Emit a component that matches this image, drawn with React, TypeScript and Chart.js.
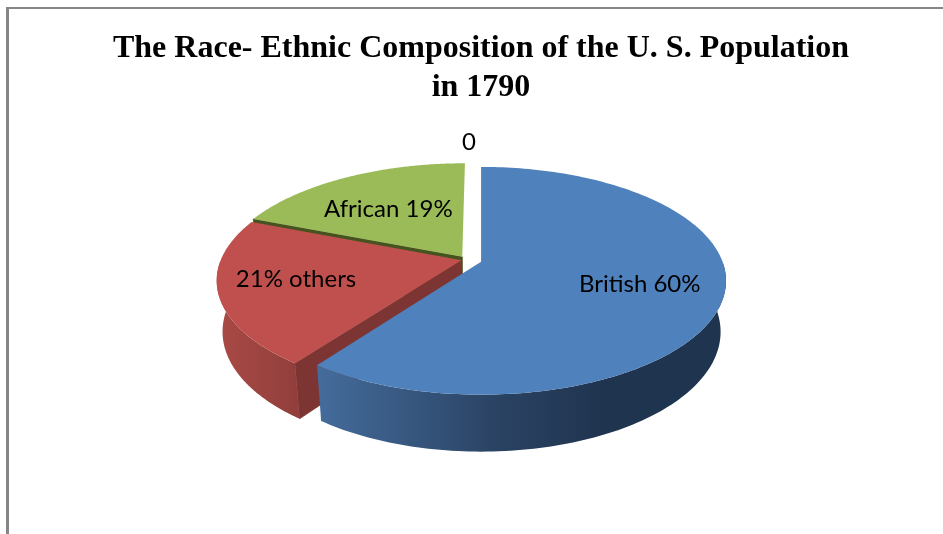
import React, { useEffect, useRef } from "react";
import { Chart, registerables } from "chart.js";

Chart.register(...registerables);

const categories = ["British 60%", "21% others", "African 19%", "0"];
const shares = [60, 21, 19, 0];
const sliceColors = ["#4f81bd", "#c0504d", "#9bbb59", "#f79646"];
const cutFaceColors = ["#2c4a70", "#7d3533", "#47531f", "#8a5326"];
const rimStops: [number, string][][] = [
  [[0, "#446c9c"], [0.45, "#2a4262"], [0.7, "#1f344f"], [1, "#1f344f"]],
  [[0, "#aa4a46"], [1, "#923f3c"]],
  [[0, "#5f7535"], [1, "#5f7535"]],
  [[0, "#8a5326"], [1, "#8a5326"]],
];
const sliceOffsets = [9.5, 3, 4.5, 0];
const labelRadii = [0.667, 0.69, 0.606, 1.3];
const labelLift = [-1, -3, 3, 0];
const titleLines = ["The Race- Ethnic Composition of the U. S. Population", "in 1790"];

// Camera model for the tilted disc: unit-disc coordinates (u, v) plus a depth h.
const STRETCH_X = 1.641;
const SQUASH_Y = 0.7525;
const DEPTH_Y = 0.351;
const PERSPECTIVE = 0.1667;
const DEPTH_SHRINK = 0.022;
const PIE_SHIFT_U = -0.061;
const PIE_SHIFT_V = -0.022;

type Pt = { x: number; y: number };

const tiltedPie = {
  id: "tiltedPie",
  beforeDatasetDraw(chart: any) {
    const { ctx } = chart;
    const arcs = chart.getDatasetMeta(0).data;

    const project = (arc: any, u: number, v: number, h: number): Pt => {
      const R = arc.outerRadius;
      const w = 1 - PERSPECTIVE * v + DEPTH_SHRINK * h;
      return {
        x: arc.x + (R * STRETCH_X * u) / w,
        y: arc.y + (R * (SQUASH_Y * v + DEPTH_Y * h)) / w,
      };
    };
    const hub = (arc: any) => {
      const mid = (arc.startAngle + arc.endAngle) / 2;
      const e = arc.options.offset / arc.outerRadius;
      return { u: PIE_SHIFT_U + e * Math.cos(mid), v: PIE_SHIFT_V + e * Math.sin(mid) };
    };
    const rimPoint = (arc: any, a: number, h: number, r = 1) => {
      const c = hub(arc);
      return project(arc, c.u + r * Math.cos(a), c.v + r * Math.sin(a), h);
    };
    const fillPath = (pts: Pt[], style: any, sealed = false) => {
      ctx.beginPath();
      pts.forEach((p, i) => (i ? ctx.lineTo(p.x, p.y) : ctx.moveTo(p.x, p.y)));
      ctx.closePath();
      ctx.fillStyle = style;
      ctx.fill();
      if (sealed) {
        // A hairline in the fill colour stops the wall seam showing white.
        ctx.strokeStyle = style;
        ctx.lineWidth = 0.8;
        ctx.stroke();
      }
    };

    // Painter's order: the rear slices first, the front slice last.
    [2, 1, 0].forEach((i) => {
      const arc = arcs[i];
      if (arc.endAngle - arc.startAngle <= 0) return;
      const steps = 180;
      const angles = Array.from({ length: steps + 1 }, (_, s) =>
        arc.startAngle + ((arc.endAngle - arc.startAngle) * s) / steps);
      const topRim = angles.map((a) => rimPoint(arc, a, 0));
      const c = hub(arc);
      const apexTop = project(arc, c.u, c.v, 0);
      const apexLow = project(arc, c.u, c.v, 1);

      // Flat cut faces, only where a radius turns towards the viewer.
      if (Math.sin(arc.startAngle - Math.PI / 2) > 0.01) {
        fillPath([apexTop, topRim[0], rimPoint(arc, angles[0], 1), apexLow], cutFaceColors[i], true);
      }
      if (Math.sin(arc.endAngle + Math.PI / 2) > 0.01) {
        fillPath([apexTop, topRim[steps], rimPoint(arc, angles[steps], 1), apexLow], cutFaceColors[i], true);
      }

      // Curved outer wall on the near half of the rim, shaded from left to right.
      const nearAngles = angles.filter((a) => Math.sin(a) >= 0);
      if (nearAngles.length > 1) {
        const xs = topRim.map((p) => p.x);
        const grad = ctx.createLinearGradient(Math.min(...xs), 0, Math.max(...xs), 0);
        rimStops[i].forEach(([stop, color]) => grad.addColorStop(stop, color));
        fillPath(
          [
            ...nearAngles.map((a) => rimPoint(arc, a, 0)),
            ...nearAngles.slice().reverse().map((a) => rimPoint(arc, a, 1)),
          ],
          grad,
        );
      }

      // Top face.
      fillPath([apexTop, ...topRim], arc.options.backgroundColor);
    });

    // Slice captions sit on each slice's middle radius.
    ctx.fillStyle = "#000000";
    ctx.font = "24px Lato";
    ctx.textAlign = "center";
    ctx.textBaseline = "middle";
    arcs.forEach((arc: any, i: number) => {
      const mid = (arc.startAngle + arc.endAngle) / 2;
      const p = rimPoint(arc, mid, 0, labelRadii[i]);
      ctx.fillText(categories[i], p.x, p.y + labelLift[i]);
    });
    return false;
  },
};

export default function App() {
  const canvasRef = useRef<HTMLCanvasElement | null>(null);

  useEffect(() => {
    const chart = new Chart(canvasRef.current as HTMLCanvasElement, {
      type: "pie",
      data: {
        labels: categories,
        datasets: [
          {
            data: shares,
            backgroundColor: sliceColors,
            borderWidth: 0,
            offset: sliceOffsets,
          },
        ],
      },
      options: {
        responsive: false,
        animation: false,
        layout: { padding: { top: 29, left: 19, right: 0, bottom: 120 } },
        plugins: {
          legend: { display: false },
          tooltip: { enabled: false },
          title: {
            display: true,
            text: titleLines,
            color: "#000000",
            font: { family: '"Liberation Serif"', size: 32, weight: "bold", lineHeight: 1.22 },
            padding: { top: 0, bottom: 3 },
          },
        },
      },
      plugins: [tiltedPie],
    } as any);
    return () => chart.destroy();
  }, []);

  return (
    <div style={{ position: "fixed", left: 0, top: 0, width: 943, height: 534, overflow: "hidden", background: "#ffffff" }}>
      <canvas ref={canvasRef} width={943} height={534} style={{ display: "block" }} />
      <div
        style={{
          position: "absolute",
          left: 6,
          top: 7,
          right: -10,
          bottom: -10,
          borderLeft: "3px solid #868686",
          borderTop: "2px solid #868686",
        }}
      />
    </div>
  );
}
